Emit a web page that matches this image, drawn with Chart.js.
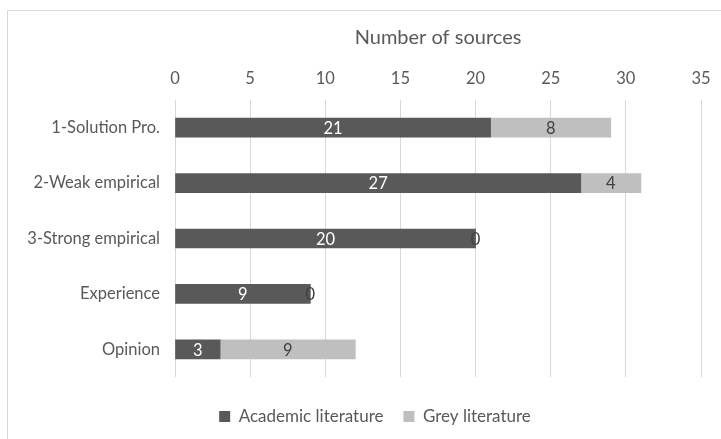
<!DOCTYPE html>
<html>
<head>
<meta charset="utf-8">
<script src="https://cdn.jsdelivr.net/npm/chart.js@4/dist/chart.umd.min.js"></script>
<style>
html,body{margin:0;padding:0;background:#fff;overflow:hidden;width:721px;height:439px;}
#wrap{position:absolute;left:7px;top:10px;width:740px;height:440px;border-top:1px solid #d9d9d9;border-left:1px solid #d9d9d9;box-sizing:border-box;}
#box{position:absolute;left:0;top:0;width:739px;height:428px;}
</style>
</head>
<body>
<div id="wrap"><div id="box"><canvas id="c"></canvas></div></div>
<script>
const categories = ["1-Solution Pro.", "2-Weak empirical", "3-Strong empirical", "Experience", "Opinion"];
const academic = [21, 27, 20, 9, 3];
const grey = [8, 4, 0, 0, 9];
const xTicks = [0, 5, 10, 15, 20, 25, 30, 35];
const seriesNames = ["Academic literature", "Grey literature"];

const FONT = "Lato";
const TXT = "#595959";

const valueLabels = {
  id: "valueLabels",
  afterDatasetsDraw(chart) {
    const ctx = chart.ctx;
    ctx.save();
    ctx.font = "16.5px " + FONT;
    ctx.textAlign = "center";
    ctx.textBaseline = "middle";
    chart.data.datasets.forEach((ds, di) => {
      const meta = chart.getDatasetMeta(di);
      meta.data.forEach((el, i) => {
        const v = ds.data[i];
        const cx = (el.x + el.base) / 2;
        ctx.fillStyle = (di === 0) ? "#ffffff" : "#404040";
        ctx.fillText(String(v), cx, el.y + 1);
      });
    });
    ctx.restore();
  }
};

// shift legend box so that it is centred on the whole frame
const legendShift = {
  id: "legendShift",
  afterLayout(chart) {
    if (chart.legend) { chart.legend.left += 41; chart.legend.width -= 41; }
  }
};

new Chart(document.getElementById("c"), {
  type: "bar",
  data: {
    labels: categories,
    datasets: [
      { label: seriesNames[0], data: academic, backgroundColor: "#595959", barThickness: 19 },
      { label: seriesNames[1], data: grey, backgroundColor: "#bfbfbf", barThickness: 19 }
    ]
  },
  options: {
    indexAxis: "y",
    responsive: true,
    maintainAspectRatio: false,
    animation: false,
    layout: { padding: { left: 0, right: 46, top: 0, bottom: 4 } },
    plugins: {
      legend: {
        position: "bottom",
        title: {
          display: true,
          text: " ",
          color: "rgba(0,0,0,0)",
          font: { size: 9, lineHeight: 1 },
          padding: { top: 1, bottom: 1 }
        },
        labels: {
          color: TXT,
          font: { family: FONT, size: 17 },
          boxWidth: 11,
          boxHeight: 11,
          padding: 20,
          useBorderRadius: false
        }
      },
      tooltip: { enabled: false }
    },
    scales: {
      x: {
        position: "top",
        stacked: true,
        min: 0,
        max: 35,
        afterBuildTicks(scale) { scale.ticks = xTicks.map(v => ({ value: v })); },
        afterFit(scale) { scale.height = 89; },
        grid: { color: "#d9d9d9", drawTicks: false, lineWidth: 1 },
        border: { display: false },
        ticks: { color: TXT, font: { family: FONT, size: 16.5 }, padding: 11 },
        title: {
          display: true,
          text: "Number of sources",
          color: TXT,
          font: { family: FONT, size: 20 },
          padding: { top: 15, bottom: 0 }
        }
      },
      y: {
        stacked: true,
        afterFit(scale) { scale.width = 167; },
        grid: { display: false, drawTicks: false },
        border: { display: false },
        ticks: { color: TXT, font: { family: FONT, size: 16.5 }, padding: 15 }
      }
    }
  },
  plugins: [valueLabels, legendShift]
});
</script>
</body>
</html>
